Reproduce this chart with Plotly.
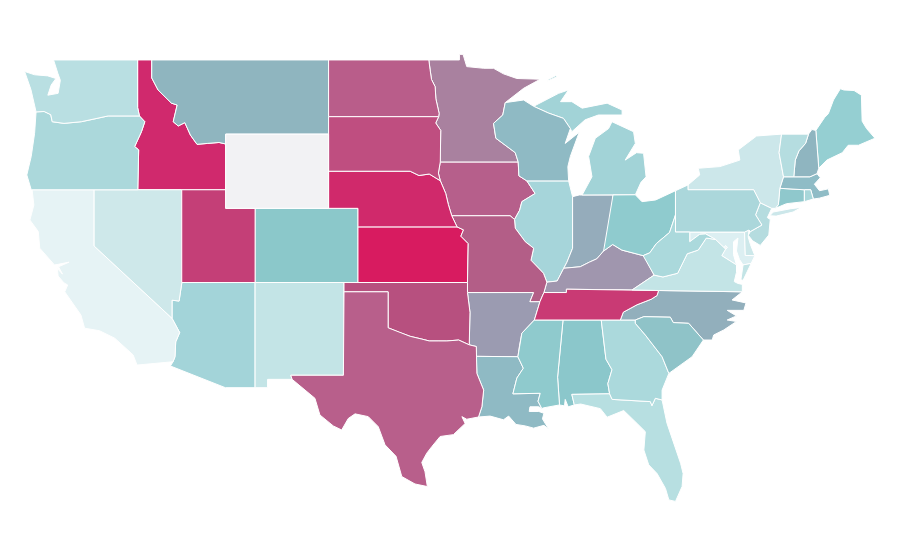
"""Lower-48 map drawn as filled lon/lat outlines (no topojson available offline)."""
import plotly.graph_objects as go

# shared borders, in lon/lat
COLUMBIA = [(-123.95,46.2),(-123.4,46.22),(-122.95,46.05),(-122.85,45.67),(-122.05,45.58),(-120.87,45.67),(-120.08,45.8),(-119.05,45.98),(-116.92,45.98)]
SNAKE = [(-116.92,45.98),(-116.55,45.67),(-116.78,45.13),(-117.24,44.33),(-116.97,44.15),(-117.03,42)]
COLORADO_R = [(-114.04,36.96),(-114.22,36),(-114.7,36.05),(-114.7,35.07),(-114.18,34.3),(-114.45,33.8),(-114.5,33),(-114.63,32.73)]
BITTERROOT = [(-116.08,49),(-116.08,48.03),(-115.65,47.38),(-114.74,46.67),(-114.35,46.57),(-114.62,45.67),(-114.28,45.44),(-113.83,45.62),(-113.45,44.95),(-113,44.45),(-112.3,44.5),(-111.5,44.55),(-111.05,44.47)]
RED_N = [(-97.23,49),(-97.15,48.5),(-97.05,47.95),(-96.8,47.56),(-96.75,46.9),(-96.53,46.12),(-96.56,45.94)]
BIG_STONE = [(-96.56,45.94),(-96.76,45.6),(-96.42,45.2),(-96.45,43.5)]
BIG_SIOUX = [(-96.45,43.5),(-96.58,42.9),(-96.45,42.49)]
MISSOURI_N = [(-96.45,42.49),(-96.08,41.8),(-95.9,41.2),(-95.67,40.6),(-95.31,40)]
KS_MO = [(-95.31,40),(-94.87,39.84),(-95.05,39.5),(-94.55,39.1),(-94.6,37)]
ST_CROIX = [(-92.03,46.7),(-92.2,46.03),(-92.83,45.58),(-92.67,44.78),(-91.35,44),(-91.15,43.5)]
MISS_IA = [(-91.15,43.5),(-91.1,42.75),(-90.56,42.48),(-90,41.8),(-90.9,41.36),(-91.05,40.9),(-91.4,40.4)]
MISS_IL = [(-91.4,40.4),(-91.35,39.93),(-90.67,39.2),(-90.1,38.85),(-90.28,38.2),(-89.43,37.5),(-89.2,37.02)]
MISS_TN = [(-89.2,37.02),(-89.4,36.46),(-89.67,35.97),(-90.05,34.98)]
MISS_AR = [(-90.05,34.98),(-90.9,34.27),(-91.07,33.55),(-91.17,33)]
MISS_LA = [(-91.17,33),(-90.8,32.38),(-91.24,31.85),(-91.51,31),(-89.65,31.03),(-89.8,30.6),(-89.54,30.2)]
OHIO_KY = [(-89.2,37.02),(-88.5,37.08),(-88.05,37.77),(-86.93,37.85),(-86.3,38.1),(-85.8,38.28),(-85.34,38.7),(-84.72,39.05),(-84.1,38.75),(-82.65,38.45)]
OHIO_WV = [(-82.65,38.45),(-82.2,38.6),(-81.75,39.1),(-80.85,39.7),(-80.45,40.64)]
RED_S = [(-100,34.56),(-99.2,34.3),(-98.5,34.1),(-97.7,33.95),(-97.2,33.85),(-96.6,33.85),(-96,33.85),(-95.2,33.9),(-94.48,33.64)]
SABINE = [(-94,33.02),(-93.96,32.1),(-93.5,31.2),(-93.62,30.3),(-93.85,29.75)]
KY_VA_WV = [(-83.4,36.6),(-81.9,37.4),(-82.5,38.3),(-82.65,38.45)]
TN_KY = [(-89.4,36.46),(-87.87,36.46),(-87.87,36.64),(-83.4,36.6),(-81.6,36.57)]
TN_NC = [(-81.6,36.57),(-81.7,36.3),(-82.1,36.1),(-83.07,35.8),(-84,35.4),(-84.2,34.98)]
WV_VA = [(-77.72,39.32),(-78.35,39.4),(-78.9,38.75),(-79.65,38.55),(-80.3,37.5),(-81.3,37.3),(-81.9,37.4)]
POTOMAC = [(-79.48,39.2),(-78.8,39.6),(-78.4,39.62),(-77.72,39.32)]
POTOMAC_LOW = [(-77.72,39.32),(-77.04,38.8),(-77.3,38.45),(-76.3,37.95)]
SC_NC = [(-83.18,34.98),(-82.6,35.16),(-80.8,35.13),(-80.6,34.84),(-79.55,34.8),(-78.55,33.9)]
SAVANNAH = [(-83.18,34.8),(-82.5,34.17),(-81.36,33),(-80.9,32.1)]
GA_AL = [(-85.5,34.98),(-85.18,32.87),(-84.77,32.3),(-85.05,31.55),(-84.93,31)]
GA_FL = [(-84.93,31),(-84.76,30.7),(-82.16,30.58),(-82.05,30.36),(-81.82,30.76),(-81.36,30.67)]
MS_AL = [(-88.1,34.98),(-88.47,31.9),(-88.34,30.4)]
NY_PA = [(-79.6,42.26),(-79.6,42),(-75.13,42),(-74.68,41.3)]
DELAWARE_R = [(-74.68,41.3),(-75,40.65),(-74.57,40.1),(-75.35,39.75)]
VT_NH = [(-71.4,45),(-71.6,44.5),(-72.05,44.1),(-72.3,43.6),(-72.4,42.7)]
NY_NE = [(-73.23,45),(-73.4,44),(-73.1,42.7),(-73.35,42.08),(-73.45,41.2),(-73.65,41)]

# states, in lon/lat
WA = [(-122.76,49),(-117.04,49),(-117.04,46.43)] + COLUMBIA[::-1] + [(-124.3,47.4),(-124.73,48.38),(-124.05,48.2),(-123.15,48.14),(-122.6,48),(-122.92,47.65),(-123.15,47.1),(-122.45,47.2),(-122.3,47.9),(-122.47,48.28)]
OR = COLUMBIA + SNAKE[1:] + [(-124.28,42),(-124.4,42.3),(-124.58,42.8),(-124.28,43.8),(-124.05,45.05)]
CA = [(-124.22,42),(-120,42),(-120,38.97),(-114.7,35.07)] + COLORADO_R[4:] + [(-117.08,32.55),(-117.35,33.1),(-118.6,34),(-119.63,34.4),(-120.65,34.54),(-120.9,35.25),(-122,36.5),(-121.8,36.87),(-122.05,36.98),(-122.45,37.35),(-122.5,37.75),(-122.15,37.45),(-122.42,37.85),(-121.7,38.1),(-122.45,37.98),(-122.7,37.95),(-123.7,38.85),(-123.8,39.75),(-124.37,40.37),(-124.1,41.18)]
NV = [(-120,42),(-114.04,42),(-114.04,36.96),(-114.22,36),(-114.7,36.05),(-114.7,35.07),(-120,38.97)]
ID = [(-117.04,49)] + BITTERROOT + [(-111.05,42),(-117.03,42)] + SNAKE[::-1][1:] + [(-117.04,46.43)]
MT = BITTERROOT[::-1] + [(-104.05,49),(-104.05,45),(-111.05,45)]
WY = [(-111.05,45),(-104.05,45),(-104.05,41),(-111.05,41)]
UT = [(-114.04,42),(-111.05,42),(-111.05,41),(-109.05,41),(-109.05,37),(-114.04,37)]
CO = [(-109.05,41),(-102.05,41),(-102.05,37),(-109.05,37)]
AZ = [(-114.04,37),(-109.05,37),(-109.05,31.33),(-111.07,31.33),(-114.81,32.5)] + COLORADO_R[::-1]
NM = [(-109.05,37),(-103,37),(-103.04,32),(-106.62,32),(-106.53,31.78),(-108.2,31.78),(-108.2,31.33),(-109.05,31.33)]
ND = [(-104.05,49)] + RED_N + [(-104.05,45.94)]
SD = [(-104.05,45.94)] + BIG_STONE + BIG_SIOUX[1:] + [(-97.2,42.85),(-97.9,42.77),(-98.5,43),(-104.05,43)]
NE = [(-104.05,43),(-98.5,43),(-97.9,42.77),(-97.2,42.85)] + MISSOURI_N + [(-102.05,40),(-102.05,41),(-104.05,41)]
KS = [(-102.05,40)] + KS_MO + [(-102.05,37)]
OK = [(-103,37),(-94.6,37),(-94.6,36.46),(-94.43,35.4)] + RED_S[::-1] + [(-100,36.5),(-103,36.5)]
TX = [(-103,36.5),(-100,36.5)] + RED_S + [(-94,33.55)] + SABINE[1:] + [(-94.65,29.63),(-94.98,29.77),(-94.76,29.4),(-95.56,28.8),(-96.46,28.7),(-97.03,28.15),(-97.37,27.8),(-97.71,27.3),(-97.49,26.8),(-97.33,26),(-98.17,26.14),(-99.07,26.54),(-99.46,27.63),(-100.21,28.25),(-100.67,29.23),(-101.35,29.77),(-102.25,29.92),(-102.71,29.67),(-103.16,29.05),(-103.73,29.27),(-104.64,29.86),(-104.98,30.76),(-106.53,31.78),(-106.62,32),(-103.04,32)]
MN = RED_N[:1] + [(-95.15,49),(-95.15,49.3),(-94.9,49.3),(-94.65,48.64),(-93.5,48.55),(-92.83,48.55),(-92.15,48.25),(-91.24,48),(-89.65,47.96),(-90.78,47.47)] + ST_CROIX + [(-96.45,43.5)] + BIG_STONE[::-1][1:] + RED_N[::-1][1:-1]
IA = [(-96.45,43.5)] + MISS_IA + [(-91.7,40.6),(-95.67,40.6),(-95.9,41.2),(-96.08,41.8),(-96.45,42.49),(-96.58,42.9)]
MO = [(-95.67,40.6),(-91.7,40.6)] + MISS_IL + MISS_TN[1:3] + [(-90.35,35.97),(-90.1,36.46),(-94.6,36.46)] + KS_MO[::-1]
AR = [(-94.6,36.46),(-90.1,36.46),(-90.35,35.97),(-89.67,35.97)] + MISS_AR + [(-94,33.02),(-94,33.55),(-94.48,33.64),(-94.43,35.4)]
LA = [(-94,33.02)] + MISS_LA + [(-89.75,30.3),(-90.35,30.3),(-90.4,30.05),(-89.75,30.05),(-89.4,29.95),(-89.5,29.65),(-89.08,29.1),(-89.4,29.3),(-90.1,29.15),(-90.67,29.27),(-91.3,29.35),(-91.8,29.8),(-92.15,29.6),(-93.06,29.8)] + SABINE[::-1][:-1]
MS = [(-91.17,33)] + MISS_LA[1:] + [(-89.45,30.24)] + MS_AL[::-1] + MISS_AR[:-1]
AL = MS_AL + [(-88,30.35),(-87.95,30.7),(-87.75,30.3),(-87.33,30.4),(-87.5,30.97)] + GA_AL[::-1]
TN = MISS_TN[1:] + [(-88.1,34.98),(-85.5,34.98)] + TN_NC[::-1] + TN_KY[::-1][1:-1]
KY = OHIO_KY + KY_VA_WV[::-1][1:] + [(-87.87,36.64),(-87.87,36.46),(-89.4,36.46)]
IL = [(-90.56,42.48),(-87.72,42.48),(-87.45,41.63),(-87.45,38.85),(-87.83,38.1),(-88.05,37.77),(-88.5,37.08),(-89.2,37.02)] + MISS_IL[::-1][1:] + MISS_IA[::-1][1:4]
IN = [(-87.45,41.63),(-87,41.72),(-84.7,41.72),(-84.72,39.05),(-85.34,38.7),(-85.8,38.28),(-86.3,38.1),(-86.93,37.85),(-88.05,37.77),(-87.83,38.1),(-87.45,38.85)]
OH = [(-84.7,41.72),(-83.18,41.73),(-82.73,41.36),(-81.8,41.45),(-80.45,41.95),(-80.45,40.64)] + OHIO_WV[::-1][1:] + OHIO_KY[::-1][1:4]
WV = [(-80.45,40.64),(-80.45,39.72),(-79.48,39.72)] + POTOMAC + WV_VA[1:] + [(-82.5,38.3),(-82.65,38.45)] + OHIO_WV[1:-1]
VA = [(-83.4,36.6)] + WV_VA[::-1] + POTOMAC_LOW[1:] + [(-76.3,37.55),(-76.45,37.05),(-76.2,36.95),(-75.9,36.9),(-75.9,36.5),(-81.6,36.57)]
VA_SHORE = [(-76,37.15),(-75.85,37.95),(-75.3,38.03),(-75.85,37.12)]
MD = [(-79.48,39.72),(-75.75,39.72),(-75.7,38.46),(-75.05,38.45),(-75.3,38.03),(-75.85,37.95),(-76.1,38.25),(-76.3,38.7),(-76.2,39.4),(-76.5,39.2),(-76.5,38.5)] + POTOMAC_LOW[::-1] + POTOMAC[::-1][1:]
DE = [(-75.75,39.72),(-75.45,39.83),(-75.5,39.45),(-75.35,39.05),(-75.05,38.45),(-75.7,38.46)]
DC = [(-77.12,38.93),(-77.04,39),(-76.91,38.89),(-77.04,38.79)]
PA = [(-80.45,41.95)] + NY_PA + DELAWARE_R[1:] + [(-75.45,39.83),(-75.75,39.72),(-80.45,39.72)]
NJ = [(-74.68,41.3),(-73.9,41),(-74.2,40.5),(-74,40.4),(-74.1,39.56),(-74.68,39),(-75.2,39.25),(-75.5,39.55),(-75.35,39.75)] + DELAWARE_R[::-1][1:-1]
NY = [(-79.6,42.26),(-78.8,42.8),(-78.9,43.16),(-77.43,43.25),(-76.07,43.6),(-76.18,44.15),(-74.93,44.9)] + NY_NE + [(-73.9,41)] + NY_PA[::-1][:-1]
NY_ISLAND = [(-74.03,40.6),(-73.8,40.8),(-72.6,40.98),(-71.88,41.05),(-72.45,40.8),(-73.6,40.58)]
VT = [(-73.23,45)] + VT_NH + [(-73.1,42.7),(-73.4,44)]
NH = VT_NH[:1] + [(-71.17,45.25),(-70.9,45.2),(-70.7,43.16),(-70.82,42.87),(-71.3,42.7)] + VT_NH[::-1][:-1]
ME = [(-70.9,45.2),(-70.3,45.9),(-70.05,46.1),(-69.7,46.84),(-69.23,47.45),(-69,47.38),(-68.3,47.35),(-67.8,47.1),(-67.75,45.7),(-67.45,45.3),(-66.88,44.78),(-68,44.4),(-68.7,44.4),(-69.1,44),(-70.15,43.6),(-70.7,43.16)]
MA = [(-73.1,42.7),(-72.4,42.7),(-71.3,42.7),(-70.82,42.87),(-70.6,42.65),(-71,42.3),(-70.65,41.95),(-70.05,42.05),(-69.95,41.7),(-70.65,41.55),(-71.07,41.5),(-71.25,42),(-71.68,42),(-73.35,42.08)]
RI = [(-71.68,42),(-71.25,42),(-71.07,41.5),(-71.68,41.36)]
CT = [(-73.35,42.08),(-71.68,42),(-71.68,41.36),(-72.9,41.25),(-73.65,41),(-73.45,41.2)]
WI = [(-92.03,46.7),(-90.78,46.84),(-90.1,46.5),(-89.1,46.14),(-88.07,45.85),(-87.6,45.3),(-87.95,44.5),(-87,45.1),(-87.6,43.8),(-87.77,43.25),(-87.72,42.48),(-90.56,42.48),(-91.1,42.75)] + ST_CROIX[::-1]
MI_LOWER = [(-86.8,41.72),(-83.18,41.73),(-82.8,42.4),(-82.45,42.7),(-82.62,43.97),(-83.1,44),(-83.87,43.6),(-83.18,44.5),(-83.3,45.13),(-84.77,45.67),(-85,45.3),(-85.9,44.78),(-86.36,43.8),(-86.13,42.7)]
MI_UPPER = [(-90.1,46.5),(-89,46.95),(-88.4,47.2),(-87.73,47.38),(-88.27,46.75),(-87.5,46.75),(-86.8,46.4),(-85.1,46.67),(-84.08,46.3),(-84.08,46.03),(-85.7,46.03),(-86.6,45.77),(-87.5,45.13),(-87.6,45.3),(-88.07,45.85),(-89.1,46.14)]
MI_ISLE = [(-89.2,47.85),(-88.5,48.1),(-88.6,48.15),(-89.1,47.95)]
NC = TN_NC + [(-83.18,34.98)] + SC_NC[1:] + [(-77.95,33.9),(-77.85,34.17),(-77.17,34.44),(-76.3,34.9),(-76.93,34.98),(-76.3,35.2),(-76.93,35.5),(-75.8,35.5),(-75.65,35.9),(-76.6,36.06),(-75.9,36.5)]
SC = SC_NC + [(-79.32,33),(-80.1,32.56)] + SAVANNAH[::-1]
GA = GA_AL[:1] + [(-84.2,34.98),(-83.18,34.98)] + SAVANNAH + [(-81.36,31.2)] + GA_FL[::-1] + GA_AL[::-1][1:-1]
FL = [(-87.5,30.97)] + GA_FL + [(-81.03,29.42),(-80.1,27.25),(-79.93,26.7),(-80,26),(-80.45,25.2),(-80.9,25.28),(-81.13,25.9),(-81.7,26.7),(-82.27,27.17),(-82.6,27.97),(-82.5,28.96),(-83.06,29.4),(-83.97,30.1),(-85.1,29.74),(-85.56,30.2),(-86.9,30.45),(-87.33,30.4)]

state_names = ["Alabama","Arkansas","Arizona","California","Colorado","Connecticut","Maryland","Delaware","District of Columbia","Florida","Georgia","Iowa","Idaho","Illinois","Indiana","Kansas","Kentucky","Louisiana","Massachusetts","Maine","Michigan","Michigan","Michigan","Minnesota","Missouri","Mississippi","Montana","North Carolina","North Dakota","Nebraska","New Hampshire","New Jersey","New Mexico","Nevada","New York","New York","Ohio","Oklahoma","Oregon","Pennsylvania","Rhode Island","South Carolina","South Dakota","Tennessee","Texas","Utah","Virginia","Virginia","Vermont","Washington","Wisconsin","West Virginia","Wyoming"]
state_shapes = [AL,AR,AZ,CA,CO,CT,MD,DE,DC,FL,GA,IA,ID,IL,IN,KS,KY,LA,MA,ME,MI_LOWER,MI_UPPER,MI_ISLE,MN,MO,MS,MT,NC,ND,NE,NH,NJ,NM,NV,NY,NY_ISLAND,OH,OK,OR,PA,RI,SC,SD,TN,TX,UT,VA,VA_SHORE,VT,WA,WI,WV,WY]
state_colors = ["#8bc7cb","#9b9bb1","#a3d4d9","#e6f3f5","#8bc8ca","#8fc8cc","#dceff2","#cde8ea","#f0f8f9","#b7dfe1","#abd9dc",
                "#b65f8b","#d0296d","#a6d5da","#95acbb","#d81b60","#a096ae","#8fbac4","#8fbcc6","#95cfd2",
                "#a2d3d7","#a2d3d7","#a2d3d7","#a9819f","#b35e87","#8fcacd","#8fb5bf","#92afbc","#b95d8a","#d0296b","#8fb5c0","#b5dcdf",
                "#c3e4e6","#cee8ea","#cce7ea","#cce7ea","#8fcbce","#b7507f","#abd8db","#abd7db","#a8d7da","#8fc3c8","#bf4e80",
                "#c93a74","#b85f8b","#c43f77","#c3e4e6","#c3e4e6","#b5dde0","#b9dfe2","#8fbac4","#abd9dc","#f2f2f4"]

fig = go.Figure()
for name, shape, color in zip(state_names, state_shapes, state_colors):
    lons = [p[0] for p in shape]
    lats = [p[1] for p in shape]
    fig.add_trace(go.Scatter(
        x=lons + lons[:1],
        y=lats + lats[:1],
        mode="lines",
        name=name,
        fill="toself",
        fillcolor=color,
        line=dict(color="white", width=1),
        hoveron="fills",
        text=name,
        hoverinfo="text",
    ))

# the page body adds an 8px offset, so the ranges start 8px in
fig.update_xaxes(range=[-125.86, -64.63], visible=False, fixedrange=True)
fig.update_yaxes(range=[21.61, 51.80], visible=False, fixedrange=True)
fig.update_layout(
    width=900, height=560,
    margin=dict(l=0, r=0, t=0, b=0),
    paper_bgcolor="white", plot_bgcolor="white",
    showlegend=False,
)
fig.write_html("out.html")
